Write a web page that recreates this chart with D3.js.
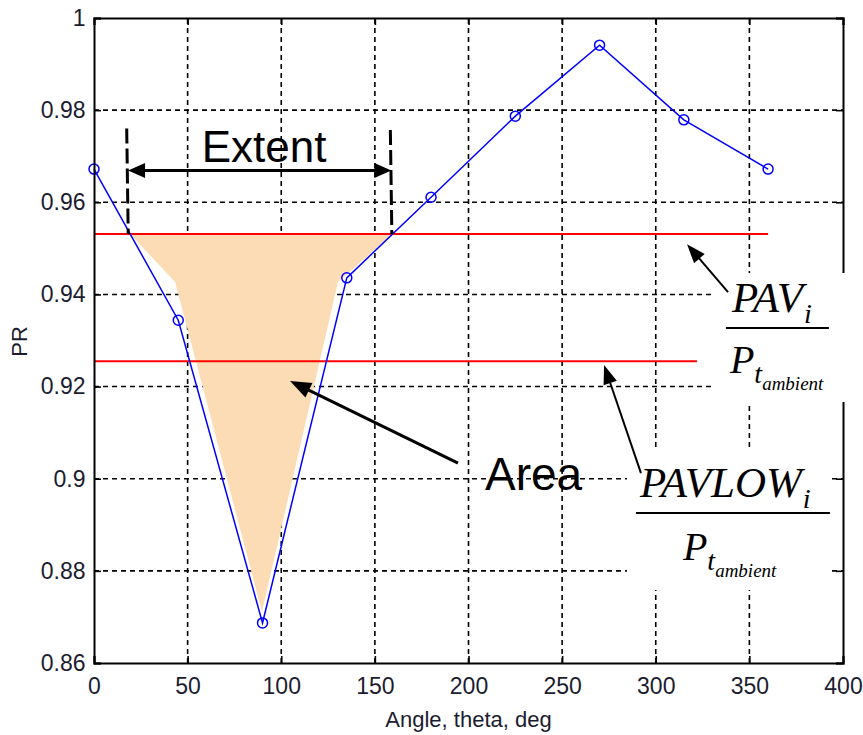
<!DOCTYPE html>
<html>
<head>
<meta charset="utf-8">
<script src="https://cdn.jsdelivr.net/npm/d3@7"></script>
<style>
  body { margin: 0; background: #fff; }
  text { font-family: "Liberation Sans", Arial, sans-serif; }
  .math { font-family: "Liberation Serif", "Times New Roman", serif; font-style: italic; }
</style>
</head>
<body>
<div id="chart"></div>
<script>
// measured pressure ratio around the circumference
const angles = [0, 45, 90, 135, 180, 225, 270, 315, 360];
const pr = [0.9672, 0.9344, 0.8687, 0.9436, 0.9611, 0.9787, 0.9941, 0.9779, 0.9672];

// reference levels (red lines) and their angle spans
const pavLevel = 0.9531, pavSpan = [0, 360];
const pavLowLevel = 0.9255, pavLowSpan = [0, 322];

// shaded "Area" outline (angle, PR)
const areaAngles = [19.3, 159.4, 130.3, 89.7, 43.3];
const areaPR = [0.9531, 0.9531, 0.9427, 0.8711, 0.9427];

// axis ticks
const xTicks = [0, 50, 100, 150, 200, 250, 300, 350, 400];
const yTicks = [0.86, 0.88, 0.9, 0.92, 0.94, 0.96, 0.98, 1];
const yTickLabels = ["0.86", "0.88", "0.9", "0.92", "0.94", "0.96", "0.98", "1"];

// set the dimensions and margins of the graph
const margin = {top: 18, right: 20, bottom: 72, left: 94},
    width = 863 - margin.left - margin.right,
    height = 735 - margin.top - margin.bottom;

const svg = d3.select("#chart")
  .append("svg")
    .attr("width", 863)
    .attr("height", 735)
  .append("g")
    .attr("transform", `translate(${margin.left}, ${margin.top})`);

const x = d3.scaleLinear().domain([0, 400]).range([0, width]);
const y = d3.scaleLinear().domain([0.86, 1]).range([height, 0]);

// dashed grid
svg.append("g").selectAll("line")
  .data(xTicks.slice(1, -1))
  .join("line")
    .attr("x1", d => x(d)).attr("x2", d => x(d))
    .attr("y1", height).attr("y2", 0)
    .attr("stroke", "#000").attr("stroke-width", 1.6)
    .attr("stroke-dasharray", "5,4");
svg.append("g").selectAll("line")
  .data(yTicks.slice(1, -1))
  .join("line")
    .attr("x1", 0).attr("x2", width)
    .attr("y1", d => y(d)).attr("y2", d => y(d))
    .attr("stroke", "#000").attr("stroke-width", 1.6)
    .attr("stroke-dasharray", "5,4");

// shaded area
svg.append("path")
  .datum(areaAngles.map((a, i) => [a, areaPR[i]]))
  .attr("d", d3.line().x(d => x(d[0])).y(d => y(d[1])).curve(d3.curveLinearClosed))
  .attr("fill", "#fcdcb4")
  .attr("stroke", "none");

// red reference lines
[[pavLevel, pavSpan], [pavLowLevel, pavLowSpan]].forEach(([lvl, span]) => {
  svg.append("line")
    .attr("x1", x(span[0])).attr("x2", x(span[1]))
    .attr("y1", y(lvl)).attr("y2", y(lvl))
    .attr("stroke", "#ff0000").attr("stroke-width", 2);
});

// data line + markers
const pts = angles.map((a, i) => ({a: a, v: pr[i]}));
svg.append("path")
  .datum(pts)
  .attr("d", d3.line().x(d => x(d.a)).y(d => y(d.v)))
  .attr("fill", "none")
  .attr("stroke", "#0000ff")
  .attr("stroke-width", 1.5);
svg.append("g").selectAll("circle")
  .data(pts)
  .join("circle")
    .attr("cx", d => x(d.a)).attr("cy", d => y(d.v))
    .attr("r", 5)
    .attr("fill", "none")
    .attr("stroke", "#0000ff")
    .attr("stroke-width", 1.5);

// axes box with inward ticks on all sides
const tick = 7;
svg.append("g")
  .call(d3.axisBottom(x).tickValues(xTicks).tickSize(-tick).tickFormat(d3.format("d")).tickPadding(15))
  .attr("transform", `translate(0, ${height})`)
  .attr("class", "x-axis");
svg.append("g")
  .call(d3.axisTop(x).tickValues(xTicks).tickSize(-tick).tickFormat(""));
svg.append("g")
  .call(d3.axisLeft(y).tickValues(yTicks).tickSize(-tick).tickPadding(15)
    .tickFormat((d, i) => yTickLabels[i]))
  .attr("class", "y-axis");
svg.append("g")
  .attr("transform", `translate(${width}, 0)`)
  .call(d3.axisRight(y).tickValues(yTicks).tickSize(-tick).tickFormat(""));

svg.selectAll(".domain").attr("stroke", "#000").attr("stroke-width", 2);
svg.selectAll(".tick line").attr("stroke", "#000").attr("stroke-width", 1.6);
svg.selectAll(".x-axis text, .y-axis text")
  .style("font-size", "23px")
  .style("font-family", "'Liberation Sans', Arial, sans-serif")
  .attr("fill", "#1c1c30");
svg.selectAll(".y-axis text").attr("x", -8 - tick - 0.5 + tick);
svg.selectAll(".x-axis text").attr("dy", "0.71em").attr("y", 15);

// axis labels
svg.append("text")
  .attr("x", width / 2)
  .attr("y", height + 64)
  .attr("text-anchor", "middle")
  .style("font-size", "22px")
  .attr("fill", "#1c1c30")
  .text("Angle, theta, deg");
svg.append("text")
  .attr("transform", "rotate(-90)")
  .attr("x", -(height / 2) - 1)
  .attr("y", -67)
  .attr("text-anchor", "middle")
  .style("font-size", "22px")
  .attr("fill", "#1c1c30")
  .text("PR");

// arrow helper (line plus filled head at the end point)
function arrow(g, x1, y1, x2, y2, len, half, sw, both) {
  const ang = Math.atan2(y2 - y1, x2 - x1);
  const head = (px, py, a) => {
    const bx = px - len * Math.cos(a), by = py - len * Math.sin(a);
    return [[px, py],
      [bx + half * Math.sin(a), by - half * Math.cos(a)],
      [bx - half * Math.sin(a), by + half * Math.cos(a)]];
  };
  const sx = both ? x1 + (len - 2) * Math.cos(ang) : x1;
  const sy = both ? y1 + (len - 2) * Math.sin(ang) : y1;
  g.append("line")
    .attr("x1", sx).attr("y1", sy)
    .attr("x2", x2 - (len - 2) * Math.cos(ang)).attr("y2", y2 - (len - 2) * Math.sin(ang))
    .attr("stroke", "#000").attr("stroke-width", sw);
  g.append("polygon").attr("points", head(x2, y2, ang).join(" ")).attr("fill", "#000");
  if (both) g.append("polygon").attr("points", head(x1, y1, ang + Math.PI).join(" ")).attr("fill", "#000");
}

// white label boxes (they cover grid and frame)
const boxes = [
  {a0: 330, a1: 401.5, p0: 0.94465, p1: 0.91665},
  {a0: 284.6, a1: 394.1, p0: 0.90623, p1: 0.87584}
];
boxes.forEach(b => {
  svg.append("rect")
    .attr("x", x(b.a0)).attr("y", y(b.p0))
    .attr("width", x(b.a1) - x(b.a0)).attr("height", y(b.p1) - y(b.p0))
    .attr("fill", "#fff");
});

// Extent annotation
const ann = svg.append("g");
[[18.0, 0.9760], [158.8, 0.9757]].forEach(([a, top]) => {
  ann.append("line")
    .attr("x1", x(a) - 1).attr("x2", x(a) + 0.5)
    .attr("y1", y(top)).attr("y2", y(pavLevel))
    .attr("stroke", "#000").attr("stroke-width", 3)
    .attr("stroke-dasharray", "15,5");
});
arrow(ann, x(18.2), y(0.9669), x(158.8), y(0.9669), 17, 7.5, 3, true);
ann.append("text")
  .attr("x", x(90.8)).attr("y", y(0.96874))
  .attr("text-anchor", "middle")
  .style("font-size", "44px")
  .attr("fill", "#000")
  .text("Extent");

// Area annotation
arrow(ann, x(194.4), y(0.9034), x(104.7), y(0.9212), 21, 8, 3, false);
ann.append("text")
  .attr("x", x(208.8)).attr("y", y(0.8975))
  .style("font-size", "46px")
  .attr("fill", "#000")
  .text("Area");

// arrows to the level labels
arrow(ann, x(338.6), y(0.9405), x(316.7), y(0.9509), 19, 7, 2, false);
arrow(ann, x(292.1), y(0.9012), x(272.4), y(0.9247), 19, 7, 2, false);

// fraction labels
function fraction(bx, by, num, numPos, barPos, denPos) {
  const g = svg.append("g").attr("transform", `translate(${bx}, ${by})`);
  const n = g.append("text").attr("class", "math")
    .attr("x", numPos[0]).attr("y", numPos[1])
    .style("font-size", "43px").attr("fill", "#000").text(num);
  const nw = n.node().getComputedTextLength();
  g.append("text").attr("class", "math")
    .attr("x", numPos[0] + nw + 1).attr("y", numPos[1] + 11)
    .style("font-size", "28px").attr("fill", "#000").text("i");
  g.append("line")
    .attr("x1", barPos[0]).attr("x2", barPos[1])
    .attr("y1", barPos[2]).attr("y2", barPos[2])
    .attr("stroke", "#000").attr("stroke-width", 2);
  const p = g.append("text").attr("class", "math")
    .attr("x", denPos[0]).attr("y", denPos[1])
    .style("font-size", "40px").attr("fill", "#000").text("P");
  const pw = p.node().getComputedTextLength();
  const t = g.append("text").attr("class", "math")
    .attr("x", denPos[0] + pw).attr("y", denPos[1] + 10)
    .style("font-size", "28px").attr("fill", "#000").text("t");
  const tw = t.node().getComputedTextLength();
  g.append("text").attr("class", "math")
    .attr("x", denPos[0] + pw + tw).attr("y", denPos[1] + 17)
    .style("font-size", "19px").attr("fill", "#000").text("ambient");
}
fraction(x(330), y(0.94465), "PAV", [20, 39], [14, 117, 55], [18, 100]);
fraction(x(284.6), y(0.90623), "PAVLOW", [13, 47], [9, 203, 63], [56, 110]);
</script>
</body>
</html>
